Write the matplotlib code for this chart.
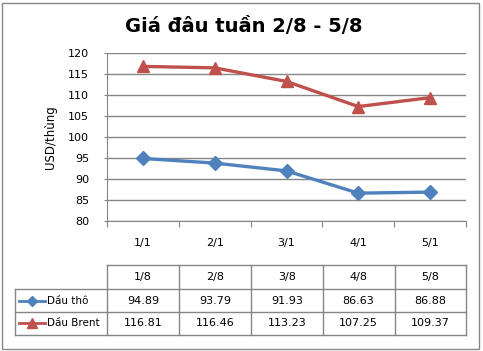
import matplotlib.pyplot as plt
from matplotlib.patches import Rectangle
from matplotlib.lines import Line2D

title = "Giá đâu tuần 2/8 - 5/8"
axis_labels = ["1/1", "2/1", "3/1", "4/1", "5/1"]
dates = ["1/8", "2/8", "3/8", "4/8", "5/8"]
names = ["Dầu thô", "Dầu Brent"]
dau_tho = [94.89, 93.79, 91.93, 86.63, 86.88]
dau_brent = [116.81, 116.46, 113.23, 107.25, 109.37]

blue = "#4F81BD"
red = "#C0504D"
grid = "#868686"
W, H = 483, 351
fs = 8

plt.rcParams["font.family"] = ["DejaVu Sans"]
fig = plt.figure(figsize=(W / 100, H / 100), dpi=100)

# outer border
fig.add_artist(Rectangle((2 / W, 2 / H), 477 / W, 346 / H, transform=fig.transFigure,
                         fill=False, edgecolor="#888888", linewidth=1))

fig.text(244 / W, 1 - 27 / H, title, ha="center", va="center",
         fontsize=14, fontweight="bold")

# main plot
ax = fig.add_axes([107 / W, 1 - 221 / H, 359 / W, 168 / H])
x = list(range(len(dates)))
ax.plot(x, dau_tho, color=blue, linewidth=2.4, marker="D", markersize=7, label=names[0])
ax.plot(x, dau_brent, color=red, linewidth=2.4, marker="^", markersize=8.5, label=names[1])
ax.set_xlim(-0.5, 4.5)
ax.set_ylim(80, 120)
ax.set_yticks(range(80, 121, 5))
ax.tick_params(axis="y", labelsize=fs, length=2, color=grid, pad=11)
ax.set_xticks([i - 0.5 for i in range(len(dates) + 1)])
ax.set_xticklabels([])
ax.tick_params(axis="x", length=4, color=grid)
ax.yaxis.grid(True, color=grid, linewidth=1)
ax.set_axisbelow(True)
for s in ["top", "right"]:
    ax.spines[s].set_visible(False)
for s in ["left", "bottom"]:
    ax.spines[s].set_color(grid)
for i, lab in enumerate(axis_labels):
    ax.text(i, -0.13, lab, transform=ax.get_xaxis_transform(), ha="center",
            va="center", fontsize=fs)
ax.set_ylabel("USD/thùng", fontsize=8.5, labelpad=8)

# data table
tb = fig.add_axes([0, 0, 1, 1])
tb.set_xlim(0, W)
tb.set_ylim(H, 0)
tb.axis("off")
cols = [107, 179, 251, 322.5, 394.5, 466]
rows = [265, 289, 312, 334.5]
left = 15.3
lk = dict(color=grid, linewidth=1)
tb.plot([cols[0], cols[-1]], [rows[0], rows[0]], **lk)
for r in rows[1:]:
    tb.plot([left, cols[-1]], [r, r], **lk)
for c in cols:
    tb.plot([c, c], [rows[0], rows[-1]], **lk)
tb.plot([left, left], [rows[1], rows[-1]], **lk)

for j, d in enumerate(dates):
    xc = (cols[j] + cols[j + 1]) / 2
    tb.text(xc, (rows[0] + rows[1]) / 2, d, ha="center", va="center", fontsize=fs)
    tb.text(xc, (rows[1] + rows[2]) / 2, "%.2f" % dau_tho[j], ha="center", va="center", fontsize=fs)
    tb.text(xc, (rows[2] + rows[3]) / 2, "%.2f" % dau_brent[j], ha="center", va="center", fontsize=fs)

series = [(names[0], blue, "D", 5), (names[1], red, "^", 7)]
for k, (nm, col, mk, ms) in enumerate(series):
    yc = (rows[k + 1] + rows[k + 2]) / 2
    tb.add_line(Line2D([19, 45], [yc, yc], color=col, linewidth=2))
    tb.plot([32], [yc], marker=mk, color=col, markersize=ms)
    tb.text(47, yc, nm, ha="left", va="center", fontsize=7.5)

fig.savefig("out.png", dpi=100)
